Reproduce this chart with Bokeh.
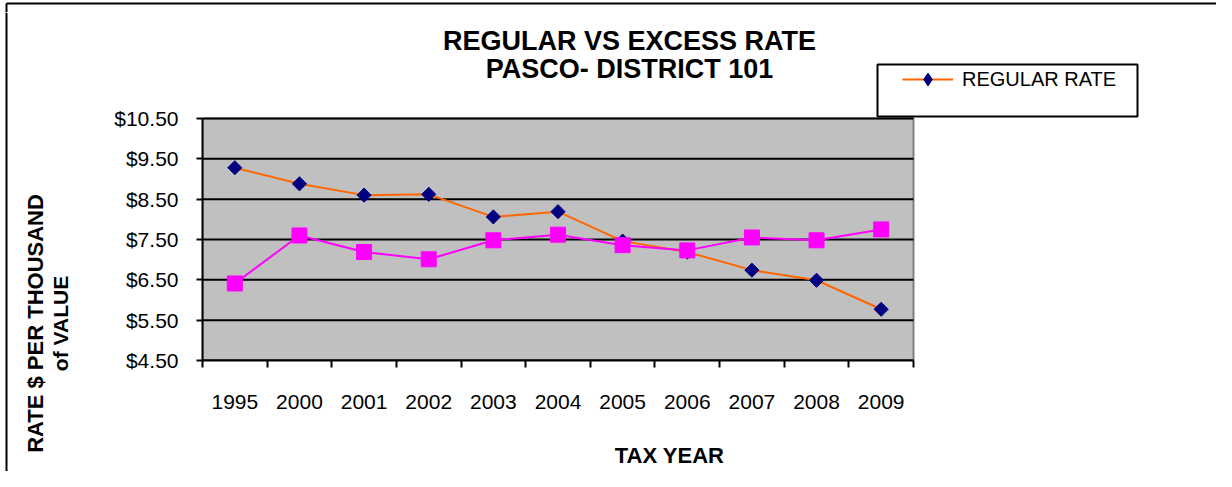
import math
from bokeh.plotting import figure
from bokeh.layouts import row, column
from bokeh.models import (FixedTicker, NumeralTickFormatter, Label, Legend, LegendItem,
                          Range1d, BoxAnnotation)
from bokeh.embed import file_html
from bokeh.resources import INLINE

# ---- data ----
years = ["1995", "2000", "2001", "2002", "2003", "2004", "2005", "2006", "2007", "2008", "2009"]
regular_rate = [9.28, 8.88, 8.60, 8.62, 8.06, 8.19, 7.46, 7.19, 6.74, 6.49, 5.77]
excess_rate = [6.41, 7.60, 7.19, 7.01, 7.48, 7.62, 7.36, 7.23, 7.55, 7.48, 7.75]
y_ticks = [4.5, 5.5, 6.5, 7.5, 8.5, 9.5, 10.5]

title_lines = ["REGULAR VS EXCESS RATE", "PASCO- DISTRICT 101"]
y_title_lines = ["RATE $ PER THOUSAND", "of VALUE"]
x_title = "TAX YEAR"
legend_label = "REGULAR RATE"

FONT = "Liberation Sans"
REG_LINE = "#FF6600"
REG_MARK = "#000080"
EXC = "#FF00FF"
PLOT_BG = "#C0C0C0"

TOTAL_W = 1216
TOP_H = 12
LEFT_W = 110
RIGHT_W = TOTAL_W - LEFT_W
AXIS_W = 92          # room for y tick labels
FRAME_W = RIGHT_W - AXIS_W
FRAME_H = 360 - TOP_H
AREA_W = 711         # plot area width
AREA_H = 242         # plot area height
MAIN_BOTTOM = 58
BOT_H = 53
BODY_H = FRAME_H + MAIN_BOTTOM + BOT_H


def blank(w, h, border_left=0):
    f = figure(width=w, height=h, output_backend="svg", toolbar_location=None,
               x_range=Range1d(0, w - border_left), y_range=Range1d(h, 0),
               x_axis_location=None, y_axis_location=None,
               frame_width=w - border_left, frame_height=h,
               min_border_left=border_left, min_border_right=0,
               min_border_top=0, min_border_bottom=0)
    f.grid.visible = False
    f.title.visible = False
    f.outline_line_color = None
    f.background_fill_color = "white"
    f.border_fill_color = "white"
    return f


# ---------------- top strip: chart box top edge ----------------
top = blank(TOTAL_W, TOP_H)
top.segment(x0=[6, 6], y0=[3, 3], x1=[TOTAL_W, 6], y1=[3, TOP_H], line_color="black", line_width=2)

# ---------------- left strip: y-axis title ----------------
left = blank(LEFT_W, BODY_H)
left.segment(x0=[6], y0=[0], x1=[6], y1=[BODY_H], line_color="black", line_width=2)
for txt, xx, fs in zip(y_title_lines, [35, 60], ["22px", "21px"]):
    left.add_layout(Label(x=xx, y=323 - TOP_H, text=txt, angle=math.pi / 2,
                          text_align="center", text_baseline="middle",
                          text_font=FONT, text_font_style="bold", text_font_size=fs,
                          text_color="black"))

# ---------------- main chart ----------------
n = len(years)
xs = [i + 0.5 for i in range(n)]
y_lo, y_hi = y_ticks[0], y_ticks[-1]
x_end = FRAME_W * n / AREA_W
y_end = y_lo + FRAME_H * (y_hi - y_lo) / AREA_H

p = figure(width=RIGHT_W, height=FRAME_H + MAIN_BOTTOM, output_backend="svg", toolbar_location=None,
           x_range=Range1d(0, x_end), y_range=Range1d(y_lo, y_end),
           frame_width=FRAME_W, frame_height=FRAME_H,
           min_border_left=AXIS_W, min_border_top=0, min_border_right=0, min_border_bottom=MAIN_BOTTOM)
p.title.visible = False
p.background_fill_color = "white"
p.border_fill_color = "white"
p.outline_line_color = None
p.xgrid.visible = False
p.ygrid.visible = False

# plot area background and horizontal gridlines
p.quad(left=[0], right=[n], bottom=[y_lo], top=[y_hi], fill_color=PLOT_BG,
       line_color="#808080", line_width=2)
p.segment(x0=[0] * len(y_ticks), x1=[n] * len(y_ticks), y0=y_ticks, y1=y_ticks,
          line_color="black", line_width=2)

xa = p.xaxis[0]
xa.bounds = (0, n)
xa.ticker = FixedTicker(ticks=xs, minor_ticks=list(range(n + 1)))
xa.major_label_overrides = {x: y for x, y in zip(xs, years)}
xa.major_tick_line_color = None
xa.major_tick_out = 0
xa.major_tick_in = 0
xa.minor_tick_line_color = "black"
xa.minor_tick_line_width = 2
xa.minor_tick_out = 7
xa.minor_tick_in = 0
xa.axis_line_color = "black"
xa.axis_line_width = 2
xa.major_label_standoff = 27
xa.major_label_text_font = FONT
xa.major_label_text_font_size = "21px"
xa.major_label_text_color = "black"

ya = p.yaxis[0]
ya.bounds = (y_lo, y_hi)
ya.ticker = FixedTicker(ticks=y_ticks, minor_ticks=[])
ya.formatter = NumeralTickFormatter(format="$0.00")
ya.major_tick_line_color = "black"
ya.major_tick_line_width = 2
ya.major_tick_out = 6
ya.major_tick_in = 0
ya.axis_line_color = "black"
ya.axis_line_width = 2
ya.major_label_standoff = 18
ya.major_label_text_font = FONT
ya.major_label_text_font_size = "21px"
ya.major_label_text_color = "black"

reg_line = p.line(xs, regular_rate, line_color=REG_LINE, line_width=2)
reg_pts = p.scatter(xs, regular_rate, marker="square", angle=math.pi / 4, size=10,
                    fill_color=REG_MARK, line_color=REG_MARK)
exc_line = p.line(xs, excess_rate, line_color=EXC, line_width=2)
exc_pts = p.scatter(xs, excess_rate, marker="square", size=15, fill_color=EXC, line_color=EXC)

# legend-only glyph stand-ins (a single undrawn NaN point)
nan = float("nan")
lg_line = p.line(x=[nan], y=[nan], line_color=REG_LINE, line_width=2)
lg_pts = p.scatter(x=[nan], y=[nan], marker="diamond", size=15, fill_color=REG_MARK, line_color=REG_MARK)

# titles
for txt, yy in zip(title_lines, [319.5, 292]):
    p.add_layout(Label(x=427, y=yy, x_units="screen", y_units="screen", text=txt,
                       text_align="center", text_baseline="middle",
                       text_font=FONT, text_font_style="bold", text_font_size="27px",
                       text_color="black"))

# legend box + legend
p.add_layout(BoxAnnotation(left=675, right=935, top=296, bottom=244,
                           left_units="screen", right_units="screen",
                           top_units="screen", bottom_units="screen",
                           fill_color="white", fill_alpha=1.0,
                           line_color="black", line_alpha=1.0, line_width=2))
legend = Legend(items=[LegendItem(label=legend_label, renderers=[lg_line, lg_pts])],
                location=(700, 265), padding=0, margin=0, spacing=0,
                glyph_width=51, glyph_height=32, label_height=32, label_standoff=9,
                label_text_font=FONT, label_text_font_size="20px", label_text_color="black",
                border_line_color=None, background_fill_alpha=0)
p.add_layout(legend, "center")

# ---------------- bottom strip: x-axis title ----------------
bottom = blank(RIGHT_W, BOT_H, border_left=AXIS_W)
bottom.add_layout(Label(x=467, y=36.5, text=x_title, text_align="center", text_baseline="middle",
                        text_font=FONT, text_font_style="bold", text_font_size="22px",
                        text_color="black"))

layout = column(top, row(left, column(p, bottom, spacing=0), spacing=0), spacing=0)

open("out.html", "w").write(file_html(layout, INLINE))
